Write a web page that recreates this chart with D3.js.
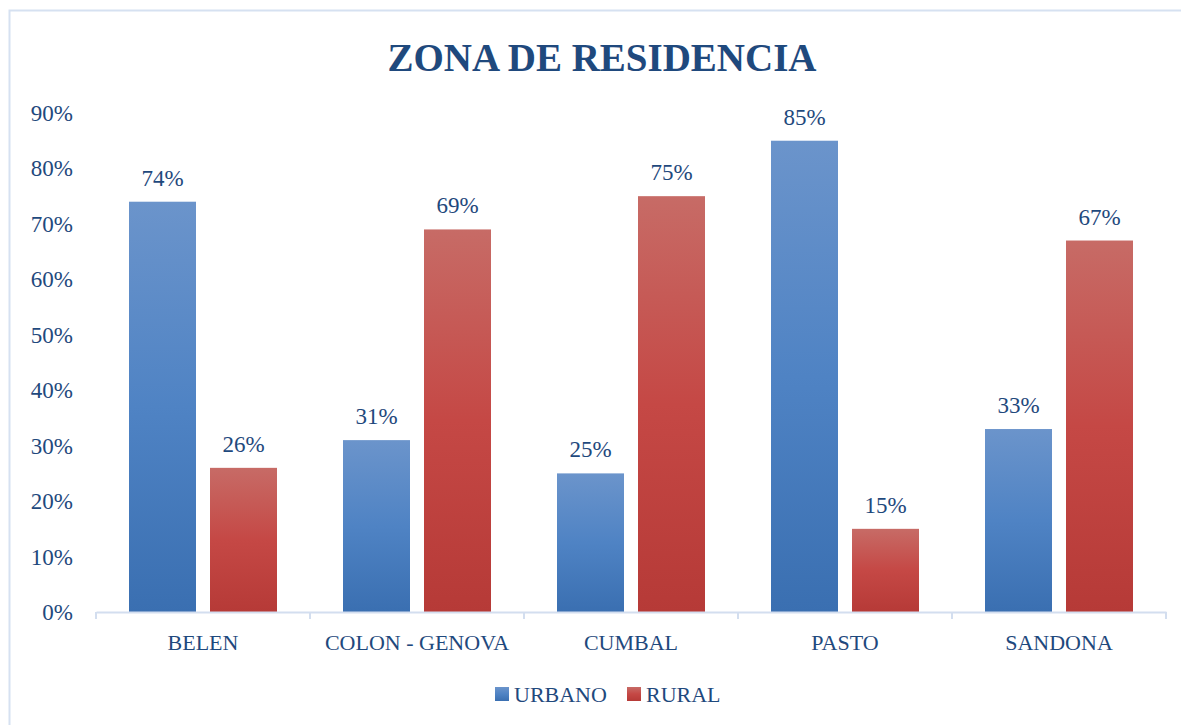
<!DOCTYPE html>
<html>
<head>
<meta charset="utf-8">
<script src="https://cdn.jsdelivr.net/npm/d3@7"></script>
<style>
  body { margin: 0; background: #fff; }
  text { font-family: "Liberation Serif", "DejaVu Serif", serif; fill: #1F497D; }
</style>
</head>
<body>
<script>
// Chart data
var categories = ["BELEN", "COLON - GENOVA", "CUMBAL", "PASTO", "SANDONA"];
var seriesNames = ["URBANO", "RURAL"];
var urbano = [74, 31, 25, 85, 33];
var rural = [26, 69, 75, 15, 67];
var yTicks = [0, 10, 20, 30, 40, 50, 60, 70, 80, 90];

var svgWidth = 1181;
var svgHeight = 725;

var margin = { top: 113, right: 15, bottom: 113, left: 96 };
var width = svgWidth - margin.left - margin.right;
var height = 612 - margin.top;

var svg = d3.select("body")
    .append("svg")
    .attr("width", svgWidth)
    .attr("height", svgHeight);

// gradients for bars
var defs = svg.append("defs");
var grads = [
    { id: "gUrb", top: "#6B94CB", mid: "#4F83C4", bottom: "#3A6FB1" },
    { id: "gRur", top: "#C76B66", mid: "#C54845", bottom: "#B63A37" }
];
grads.forEach(function (g) {
    var lg = defs.append("linearGradient")
        .attr("id", g.id)
        .attr("x1", 0).attr("y1", 0).attr("x2", 0).attr("y2", 1);
    lg.append("stop").attr("offset", "0%").attr("stop-color", g.top);
    lg.append("stop").attr("offset", "50%").attr("stop-color", g.mid);
    lg.append("stop").attr("offset", "100%").attr("stop-color", g.bottom);
});

// outer frame
svg.append("rect")
    .attr("x", 9.5).attr("y", 10.5)
    .attr("width", 1180).attr("height", 740)
    .attr("fill", "none")
    .attr("stroke", "#D6E1F1")
    .attr("stroke-width", 2);

// title
svg.append("text")
    .attr("x", 602)
    .attr("y", 71)
    .attr("text-anchor", "middle")
    .attr("font-size", 39)
    .attr("font-weight", "bold")
    .text("ZONA DE RESIDENCIA");

var chartGroup = svg.append("g")
    .attr("transform", `translate(${margin.left}, ${margin.top})`);

var x0 = d3.scaleBand()
    .domain(categories)
    .range([0, width])
    .paddingInner(0)
    .paddingOuter(0);

var x1 = d3.scaleBand()
    .domain(seriesNames)
    .range([33, x0.bandwidth() - 33])
    .paddingInner(0.1728);

var yScale = d3.scaleLinear()
    .domain([0, 90])
    .range([height, 0]);

// y labels
chartGroup.append("g")
    .selectAll("text")
    .data(yTicks)
    .enter()
    .append("text")
    .attr("x", -23)
    .attr("y", d => yScale(d))
    .attr("dy", "0.35em")
    .attr("text-anchor", "end")
    .attr("font-size", 23)
    .text(d => d + "%");

var rows = categories.map(function (c, i) {
    return { cat: c, values: [ { s: "URBANO", v: urbano[i] }, { s: "RURAL", v: rural[i] } ] };
});

var groups = chartGroup.selectAll(".cat")
    .data(rows)
    .enter()
    .append("g")
    .attr("class", "cat")
    .attr("transform", d => `translate(${x0(d.cat)},0)`);

groups.selectAll("rect")
    .data(d => d.values)
    .enter()
    .append("rect")
    .attr("x", d => x1(d.s))
    .attr("y", d => yScale(d.v))
    .attr("width", x1.bandwidth())
    .attr("height", d => height - yScale(d.v))
    .attr("fill", d => d.s == "URBANO" ? "url(#gUrb)" : "url(#gRur)");

// value labels
groups.selectAll(".val")
    .data(d => d.values)
    .enter()
    .append("text")
    .attr("class", "val")
    .attr("x", d => x1(d.s) + x1.bandwidth() / 2)
    .attr("y", d => yScale(d.v) - 16)
    .attr("text-anchor", "middle")
    .attr("font-size", 23)
    .text(d => d.v + "%");

// x axis
var bottomAxis = d3.axisBottom(x0).tickSize(0).tickPadding(22);
var xAxis = chartGroup.append("g")
    .attr("transform", `translate(0, ${height})`)
    .call(bottomAxis);
xAxis.select(".domain").attr("stroke", "#D3DEEF").attr("stroke-width", 2);
xAxis.selectAll(".tick text")
    .attr("font-size", 22)
    .attr("font-family", "Liberation Serif, serif")
    .attr("fill", "#1F497D");

// boundary ticks
chartGroup.append("g")
    .selectAll("line")
    .data(d3.range(categories.length + 1))
    .enter()
    .append("line")
    .attr("x1", i => i * x0.bandwidth())
    .attr("x2", i => i * x0.bandwidth())
    .attr("y1", height)
    .attr("y2", height + 7)
    .attr("stroke", "#D3DEEF")
    .attr("stroke-width", 2);

// legend
var legendX = [495, 627];
var legend = svg.append("g");
seriesNames.forEach(function (s, i) {
    legend.append("rect")
        .attr("x", legendX[i])
        .attr("y", 687)
        .attr("width", 14)
        .attr("height", 14)
        .attr("fill", i == 0 ? "url(#gUrb)" : "url(#gRur)");
    legend.append("text")
        .attr("x", legendX[i] + 19)
        .attr("y", 694)
        .attr("dy", "0.35em")
        .attr("font-size", 22)
        .text(s);
});
</script>
</body>
</html>
